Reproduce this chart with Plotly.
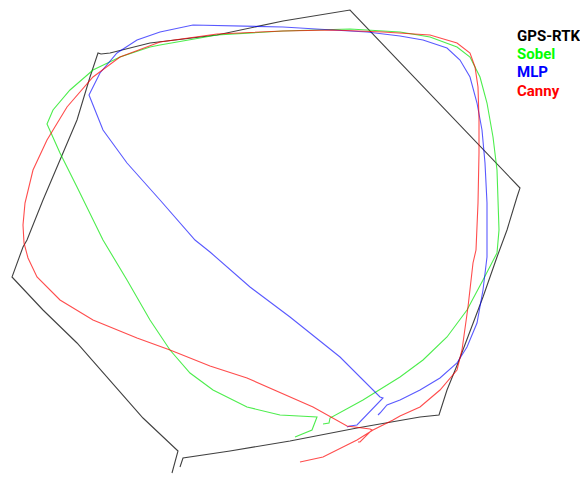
import plotly.graph_objects as go

# Paths (image-like coordinates, y grows downward)
gps_x = [180, 183, 230, 290, 357, 400, 420, 439, 447, 458, 483, 497, 507, 517, 520, 350, 283, 217, 150, 110, 101, 98, 90, 77, 60, 43, 27, 23, 12, 43, 77, 110, 143, 178, 172]
gps_y = [467, 458, 451, 441, 428, 420, 417, 415, 390, 363, 297, 257, 230, 197, 188, 10, 21, 35, 43, 53, 54, 53, 77, 120, 160, 200, 240, 247, 277, 310, 343, 380, 418, 451, 473]

sobel_x = [323, 329, 330, 363, 400, 423, 447, 467, 483, 497, 499, 498, 497, 493, 487, 480, 470, 457, 430, 400, 350, 283, 217, 160, 150, 120, 93, 70, 53, 47, 60, 77, 103, 127, 150, 170, 190, 213, 247, 280, 317, 312, 295]
sobel_y = [424, 423, 418, 400, 377, 360, 337, 310, 280, 253, 230, 203, 170, 137, 103, 77, 57, 47, 37, 32, 29, 31, 35, 45, 47, 57, 70, 90, 110, 124, 153, 187, 240, 280, 320, 350, 373, 390, 407, 415, 417, 430, 437]

mlp_x = [347, 350, 357, 383, 380, 340, 290, 250, 210, 195, 160, 127, 103, 89, 100, 117, 137, 160, 193, 283, 333, 367, 400, 423, 447, 460, 470, 477, 482, 485, 487, 487, 487, 483, 477, 467, 457, 440, 420, 400, 387, 380, 378]
mlp_y = [427, 426, 425, 398, 397, 357, 317, 287, 252, 240, 200, 163, 130, 95, 73, 53, 40, 32, 25, 27, 30, 32, 36, 40, 48, 60, 77, 103, 130, 163, 203, 230, 257, 290, 323, 347, 363, 378, 390, 400, 405, 413, 415]

canny_x = [358, 360, 372, 370, 347, 313, 247, 210, 170, 137, 93, 60, 37, 28, 24, 23, 25, 33, 47, 67, 93, 120, 160, 217, 283, 333, 383, 430, 457, 470, 475, 478, 479, 479, 478, 476, 473, 468, 462, 457, 440, 420, 400, 393, 373, 357, 347, 323, 300]
canny_y = [442, 442, 430, 429, 426, 407, 378, 366, 350, 338, 320, 300, 277, 258, 243, 225, 203, 170, 140, 107, 77, 57, 42, 34, 31, 30, 32, 35, 43, 53, 67, 87, 120, 153, 203, 250, 263, 307, 350, 370, 390, 407, 416, 420, 430, 440, 445, 457, 462]

series_names = ["GPS-RTK", "Sobel", "MLP", "Canny"]
series_colors = ["#000000", "#00ff00", "#0000ff", "#ff0000"]
series_line_colors = ["rgba(0,0,0,0.75)", "rgba(0,230,0,0.7)", "rgba(0,0,255,0.65)", "rgba(255,0,0,0.7)"]
series_xy = [(gps_x, gps_y), (sobel_x, sobel_y), (mlp_x, mlp_y), (canny_x, canny_y)]

fig = go.Figure()
for name, lc, (xs, ys) in zip(series_names, series_line_colors, series_xy):
    fig.add_trace(go.Scatter(x=xs, y=ys, mode="lines", name=name,
                             line=dict(color=lc, width=1.1), showlegend=False))

legend_y = [36, 54, 72, 91]
for name, col, ly in zip(series_names, series_colors, legend_y):
    fig.add_annotation(x=515, y=ly, xref="x", yref="y", text="<b>" + name + "</b>",
                       showarrow=False, xanchor="left", yanchor="middle",
                       font=dict(family="Roboto", size=15, color=col))

fig.update_layout(width=580, height=480, margin=dict(l=0, r=0, t=0, b=0),
                  paper_bgcolor="white", plot_bgcolor="white",
                  xaxis=dict(range=[0, 580], visible=False),
                  yaxis=dict(range=[480, 0], visible=False))
fig.write_html("out.html", config={"displayModeBar": False},
               post_script="document.body.style.margin='0';document.body.style.overflow='hidden';")
